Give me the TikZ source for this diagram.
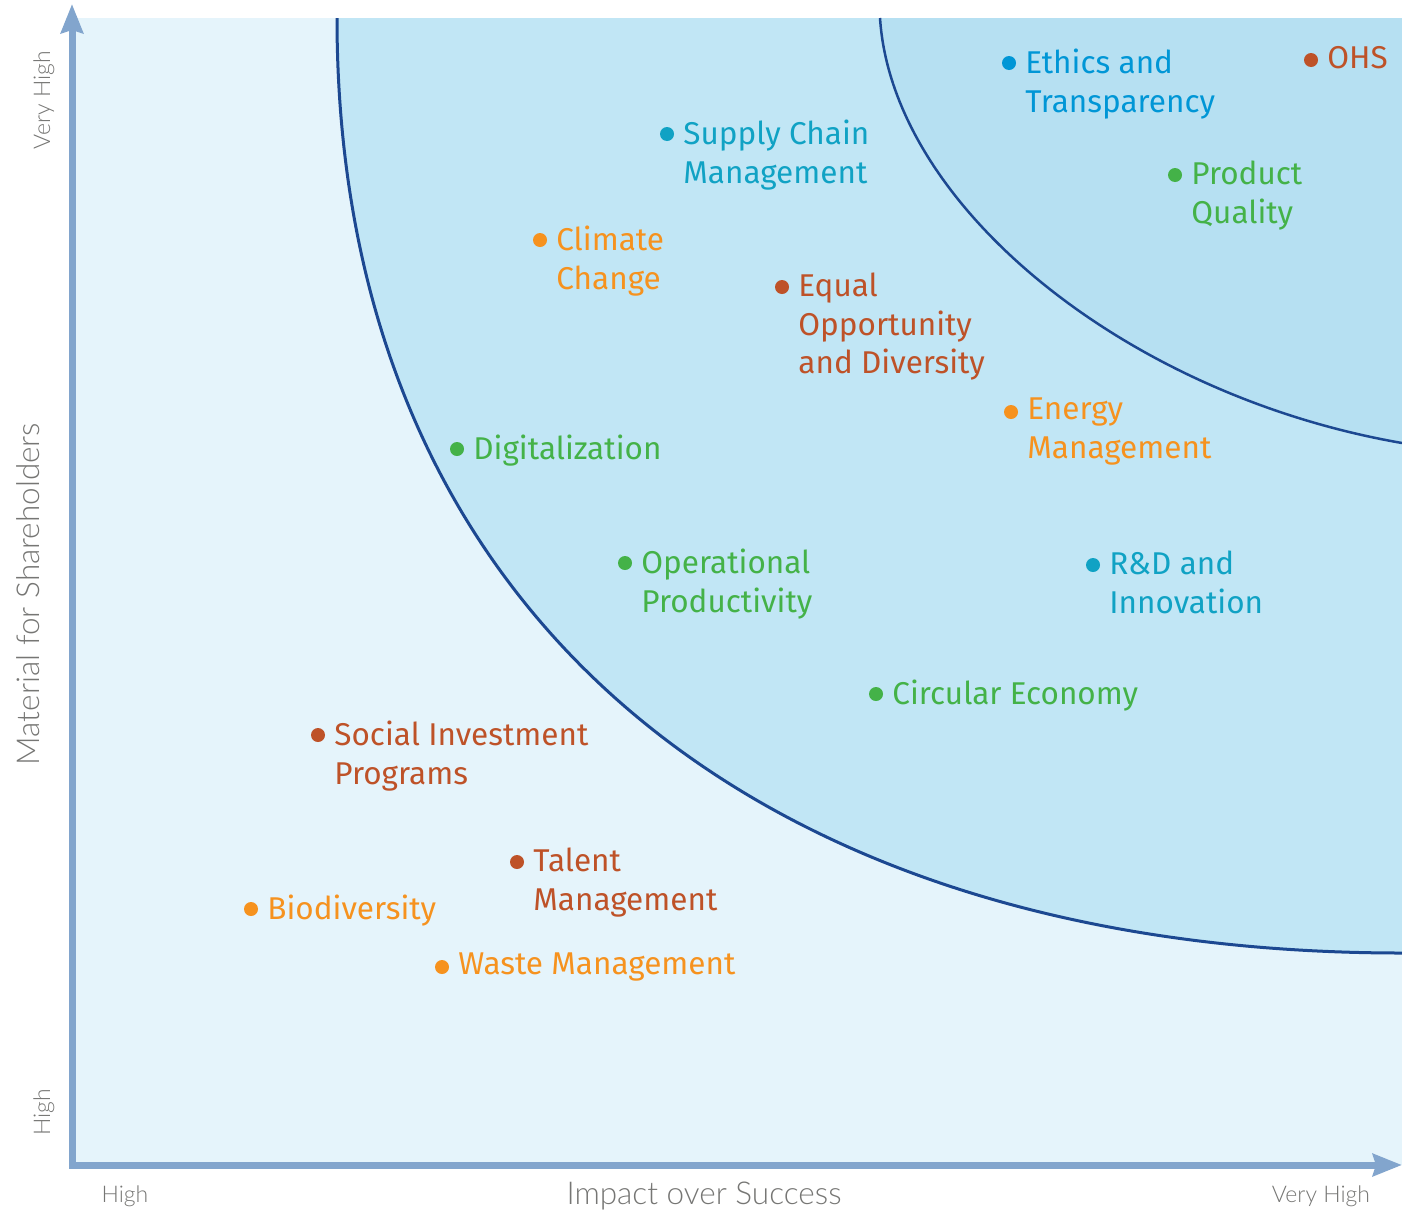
\documentclass[tikz,border=0pt]{standalone}
\usepackage{fontspec}
\setmainfont{Fira Sans}
\newfontfamily\axisfont{Lato Light}
\usetikzlibrary{positioning,arrows.meta}
\definecolor{bgblue}{RGB}{229,244,251}
\definecolor{midblue}{RGB}{193,230,245}
\definecolor{coreblue}{RGB}{182,224,242}
\definecolor{curveblue}{RGB}{28,72,145}
\definecolor{axisblue}{RGB}{130,165,205}
\definecolor{axisgray}{RGB}{118,118,116}
\definecolor{brick}{RGB}{190,82,40}
\definecolor{leaf}{RGB}{68,178,72}
\definecolor{amber}{RGB}{246,146,30}
\definecolor{sky}{RGB}{0,150,214}
\definecolor{teal}{RGB}{16,162,196}

\begin{document}
\begin{tikzpicture}[x=1pt,y=-1pt,
    dot/.style={circle,fill=#1,inner sep=0pt,minimum size=14pt},
    topic/.style={text=#1,anchor=north west,yshift=14pt,inner sep=0pt,align=left,
      font=\fontsize{31.5}{38.5}\selectfont},
    axis/.style={line width=7pt,draw=axisblue,
      {Stealth[length=29pt,width=22pt,inset=3pt]}-{Stealth[length=29pt,width=22pt,inset=3pt]}},
    axislabel/.style={text=axisgray,inner sep=0pt,font=\axisfont\fontsize{31.5}{38}\selectfont},
    endlabel/.style={text=axisgray,inner sep=0pt,font=\axisfont\fontsize{23}{27}\selectfont}]
  \useasboundingbox (0,0) rectangle (1402,1213);

  % zones
  \fill[bgblue] (72,18) rectangle (1402,1165);
  \coordinate (outer-top) at (337,18);
  \coordinate (outer-end) at (1402,953);
  \coordinate (inner-top) at (880,18);
  \coordinate (inner-end) at (1402,443);
  \fill[midblue] (outer-top) .. controls (337,618) and (762,953) .. (outer-end) -- (1402,18) -- cycle;
  \fill[coreblue] (inner-top) .. controls (892,205) and (1125,395) .. (inner-end) -- (1402,18) -- cycle;
  \draw[curveblue,line width=3pt] (outer-top) .. controls (337,618) and (762,953) .. (outer-end);
  \draw[curveblue,line width=2.5pt] (inner-top) .. controls (892,205) and (1125,395) .. (inner-end);

  % axes
  \coordinate (ytip) at (72,4);
  \coordinate (xtip) at (1402,1165);
  \draw[axis] (ytip) |- (xtip);
  \node[axislabel,rotate=90] (ylab) at (28,594) {Material for Shareholders};
  \node[endlabel,rotate=90] (yhigh) at (44,100) {Very High};
  \node[endlabel,rotate=90] (ylow) at (44,1112) {High};
  \node[axislabel] (xlab) at (704,1196) {Impact over Success};
  \node[endlabel] (xlow) at (125,1196) {High};
  \node[endlabel] (xhigh) at (1321,1196) {Very High};

  % topics
  \node[dot=sky] (ethics) at (1009,63) {};
  \node[right=9pt of ethics,topic=sky] (ethics-t) {Ethics and\\Transparency};
  \node[dot=brick] (ohs) at (1311,60) {};
  \node[right=9pt of ohs,topic=brick] (ohs-t) {OHS};
  \node[dot=leaf] (quality) at (1175,175) {};
  \node[right=9pt of quality,topic=leaf] (quality-t) {Product\\Quality};
  \node[dot=teal] (supply) at (667,134) {};
  \node[right=9pt of supply,topic=teal] (supply-t) {Supply Chain\\Management};
  \node[dot=amber] (climate) at (540,240) {};
  \node[right=9pt of climate,topic=amber] (climate-t) {Climate\\Change};
  \node[dot=brick] (equal) at (782,287) {};
  \node[right=9pt of equal,topic=brick] (equal-t) {Equal\\Opportunity\\and Diversity};
  \node[dot=amber] (energy) at (1011,412) {};
  \node[right=9pt of energy,topic=amber] (energy-t) {Energy\\Management};
  \node[dot=leaf] (digital) at (457,449) {};
  \node[right=9pt of digital,topic=leaf] (digital-t) {Digitalization};
  \node[dot=leaf] (operational) at (625,563) {};
  \node[right=9pt of operational,topic=leaf] (operational-t) {Operational\\Productivity};
  \node[dot=teal] (rnd) at (1093,565) {};
  \node[right=9pt of rnd,topic=teal] (rnd-t) {R\&D and\\Innovation};
  \node[dot=leaf] (circular) at (876,694) {};
  \node[right=9pt of circular,topic=leaf] (circular-t) {Circular Economy};
  \node[dot=brick] (social) at (318,735) {};
  \node[right=9pt of social,topic=brick] (social-t) {Social Investment\\Programs};
  \node[dot=brick] (talent) at (517,862) {};
  \node[right=9pt of talent,topic=brick] (talent-t) {Talent\\Management};
  \node[dot=amber] (biodiversity) at (251,909) {};
  \node[right=9pt of biodiversity,topic=amber] (biodiversity-t) {Biodiversity};
  \node[dot=amber] (waste) at (442,967) {};
  \node[right=9pt of waste,topic=amber] (waste-t) {Waste Management};
\end{tikzpicture}
\end{document}
